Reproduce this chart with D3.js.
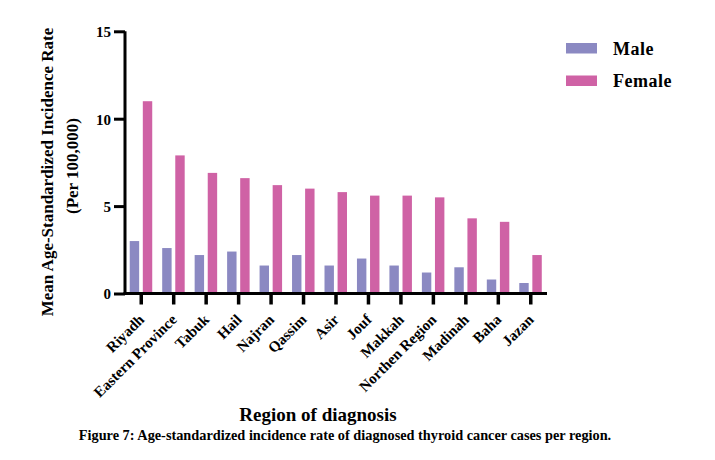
<!DOCTYPE html>
<html>
<head>
<meta charset="utf-8">
<script src="https://cdn.jsdelivr.net/npm/d3@7"></script>
<style>
  html, body { margin: 0; padding: 0; background: #fff; }
  svg { display: block; }
  text { font-family: "Liberation Serif", "Times New Roman", serif; font-weight: bold; fill: #000; }
</style>
</head>
<body>
<svg id="chart" width="715" height="460"></svg>
<script>
const regions = ["Riyadh", "Eastern Province", "Tabuk", "Hail", "Najran", "Qassim", "Asir", "Jouf", "Makkah", "Northen Region", "Madinah", "Baha", "Jazan"];
const maleValues = [3.0, 2.6, 2.2, 2.4, 1.6, 2.2, 1.6, 2.0, 1.6, 1.2, 1.5, 0.8, 0.6];
const femaleValues = [11.0, 7.9, 6.9, 6.6, 6.2, 6.0, 5.8, 5.6, 5.6, 5.5, 4.3, 4.1, 2.2];
const seriesNames = ["Male", "Female"];
const seriesColors = ["#8b89c2", "#cf62a5"];
const yTicks = [0, 5, 10, 15];
const yTitle1 = "Mean Age-Standardized Incidence Rate";
const yTitle2 = "(Per 100,000)";
const xTitle = "Region of diagnosis";
const caption = "Figure 7: Age-standardized incidence rate of diagnosed thyroid cancer cases per region.";

(function () {
const svg = d3.select("#chart");
const mLeft = 125, mRight = 547, mTop = 31.3, mBottom = 293.5;

const x0 = d3.scaleBand().domain(regions).range([mLeft, mRight]).padding(0);
const x1 = d3.scaleBand().domain(seriesNames).range([-11.5, 11]).paddingInner(0.28);
const y = d3.scaleLinear().domain([0, 15]).range([mBottom, mTop]);

const data = regions.map((r, i) => ({ region: r, values: [maleValues[i], femaleValues[i]] }));

// bars
const groups = svg.append("g").selectAll("g").data(data).join("g")
  .attr("transform", d => `translate(${x0(d.region) + x0.bandwidth() / 2},0)`);
groups.selectAll("rect").data(d => d.values.map((v, k) => ({ k, v }))).join("rect")
  .attr("x", d => x1(seriesNames[d.k]))
  .attr("width", x1.bandwidth())
  .attr("y", d => y(d.v))
  .attr("height", d => y(0) - y(d.v))
  .attr("fill", d => seriesColors[d.k]);

// y axis
const yAxis = svg.append("g").attr("transform", `translate(${mLeft},0)`)
  .call(d3.axisLeft(y).tickValues(yTicks).tickSize(11).tickPadding(3).tickFormat(d3.format("d")));
yAxis.select(".domain").attr("stroke-width", 3).attr("d", `M0,${mTop}V${mBottom + 1.5}`);
yAxis.selectAll(".tick line").attr("stroke-width", 3);
yAxis.selectAll(".tick text").style("font-size", "15px").attr("dy", "0.36em");

// x axis
const xAxis = svg.append("g").attr("transform", `translate(0,${mBottom})`)
  .call(d3.axisBottom(x0).tickSize(11).tickFormat(""));
xAxis.select(".domain").attr("stroke-width", 3).attr("d", `M${mLeft - 1.5},0H${mRight}`);
xAxis.selectAll(".tick line").attr("stroke-width", 3.5);

// x labels
svg.append("g").selectAll("text").data(regions).join("text")
  .attr("transform", d => `translate(${x0(d) + x0.bandwidth() / 2 + 4},${mBottom + 27}) rotate(-45)`)
  .attr("text-anchor", "end")
  .style("font-size", "15px")
  .text(d => d);

// y title
svg.append("text")
  .attr("transform", `translate(53,172) rotate(-90)`)
  .attr("text-anchor", "middle")
  .style("font-size", "17px")
  .text(yTitle1);
svg.append("text")
  .attr("transform", `translate(78,166) rotate(-90)`)
  .attr("text-anchor", "middle")
  .style("font-size", "17px")
  .text(yTitle2);

// x title
svg.append("text")
  .attr("x", 318).attr("y", 421)
  .attr("text-anchor", "middle")
  .style("font-size", "19px")
  .text(xTitle);

// caption
svg.append("text")
  .attr("x", 345).attr("y", 440)
  .attr("text-anchor", "middle")
  .style("font-size", "14.3px")
  .text(caption);

// legend
const legend = svg.append("g").selectAll("g").data(seriesNames).join("g")
  .attr("transform", (d, i) => `translate(566,${43 + i * 32.5})`);
legend.append("rect").attr("width", 31).attr("height", 10.5).attr("fill", (d, i) => seriesColors[i]);
legend.append("text").attr("x", 47).attr("y", 11.5)
  .style("font-size", "18px").style("letter-spacing", "0.5px")
  .text(d => d);
})();
</script>
</body>
</html>
